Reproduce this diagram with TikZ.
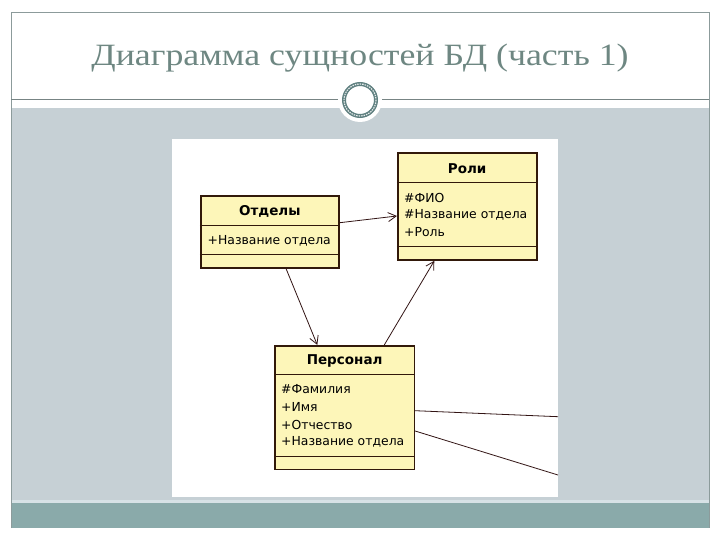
\documentclass[tikz,border=0pt]{standalone}
\usepackage{fontspec}
\setmainfont{Liberation Serif}
\newfontfamily\umlfont{DejaVu Sans}
\usetikzlibrary{arrows.meta,calc}
\definecolor{frameline}{RGB}{140,155,155}
\definecolor{grayarea}{RGB}{198,208,213}
\definecolor{tealband}{RGB}{138,170,170}
\definecolor{lightline}{RGB}{215,226,230}
\definecolor{boxfill}{RGB}{253,246,185}
\definecolor{boxline}{RGB}{50,25,10}
\definecolor{titlecol}{RGB}{110,135,130}
\definecolor{ringcol}{RGB}{95,128,128}
\definecolor{conncol}{RGB}{50,20,20}
\tikzset{
  umlbox/.style={draw=boxline, fill=boxfill, line width=1.6pt, inner sep=0pt},
  divline/.style={draw=boxline, line width=0.9pt},
  umltitle/.style={font=\umlfont\bfseries\fontsize{13.5}{15}\selectfont, inner sep=0pt, text=black},
  attr/.style={font=\umlfont\fontsize{12.4}{14}\selectfont, inner sep=0pt, anchor=west, text=black},
  conn/.style={draw=conncol, line width=0.8pt},
  tipped/.style={-{Straight Barb[length=8pt,width=9pt,line width=0.8pt]}},
}
\begin{document}
\begin{tikzpicture}[x=1pt,y=-1pt]
\useasboundingbox (0,0) rectangle (720,540);
\fill[white] (0,0) rectangle (720,540);
% slide background
\fill[grayarea] (11,108) rectangle (709,503);
\fill[lightline] (11,500) rectangle (709,503);
\fill[tealband] (11,503) rectangle (709,528);
\fill[white] (172,139) rectangle (558,497);
\draw[frameline, line width=0.8pt] (11,528) -- (11,12) -- (709,12) -- (709,528);
\draw[frameline!85!black, line width=1pt] (11,100) -- (709,100);
% ornament
\fill[white] (360,100) circle (22);
\draw[ringcol, line width=4pt] (360,100) circle (16);
\draw[white!85!ringcol, line width=1.1pt, dash pattern=on 1.5pt off 1pt] (360,100) circle (16);
% title
\node[text=titlecol, inner sep=0pt] (title) at (360,58) {\scalebox{1.155}[1]{\fontsize{31}{36}\selectfont Диаграмма сущностей БД (часть 1)}};

% Отделы
\node[umlbox, minimum width=138.3pt, minimum height=71.7pt] (otd) at (269.85,231.85) {};
\draw[divline] (otd.west |- 0,225.7) -- (otd.east |- 0,225.7);
\draw[divline] (otd.west |- 0,254.3) -- (otd.east |- 0,254.3);
\node[umltitle] (otdT) at (otd.north |- 0,211) {Отделы};
\node[attr] (otdA1) at (207.5,240.5) {+Название отдела};

% Роли
\node[umlbox, minimum width=139pt, minimum height=106.7pt] (roli) at (467.2,206.65) {};
\draw[divline] (roli.west |- 0,182.3) -- (roli.east |- 0,182.3);
\draw[divline] (roli.west |- 0,246.7) -- (roli.east |- 0,246.7);
\node[umltitle] (roliT) at (roli.north |- 0,168.5) {Роли};
\node[attr] (roliA1) at (404,197.5) {\#ФИО};
\node[attr] (roliA2) at (404,214.5) {\#Название отдела};
\node[attr] (roliA3) at (404,232) {+Роль};

% Персонал
\node[umlbox, minimum width=139.3pt, minimum height=123.6pt] (pers) at (344.65,407.5) {};
\draw[divline] (pers.west |- 0,374.3) -- (pers.east |- 0,374.3);
\draw[divline] (pers.west |- 0,456.7) -- (pers.east |- 0,456.7);
\node[umltitle] (persT) at (pers.north |- 0,360.5) {Персонал};
\node[attr] (persA1) at (281,389.5) {\#Фамилия};
\node[attr] (persA2) at (281,407) {+Имя};
\node[attr] (persA3) at (281,424.5) {+Отчество};
\node[attr] (persA4) at (281,442) {+Название отдела};

% connectors
\coordinate (e1) at (558,416.7);
\coordinate (e2) at (558,475);
\draw[conn, tipped] (otd.east |- 0,222.7) -- (roli.west |- 0,216);
\draw[conn, tipped] (286,0 |- otd.south) -- (317.3,0 |- pers.north);
\draw[conn, tipped] (384.3,0 |- pers.north) -- (434.3,0 |- roli.south);
\draw[conn] (pers.east |- 0,410.7) -- (e1);
\draw[conn] (pers.east |- 0,431) -- (e2);
\end{tikzpicture}
\end{document}
